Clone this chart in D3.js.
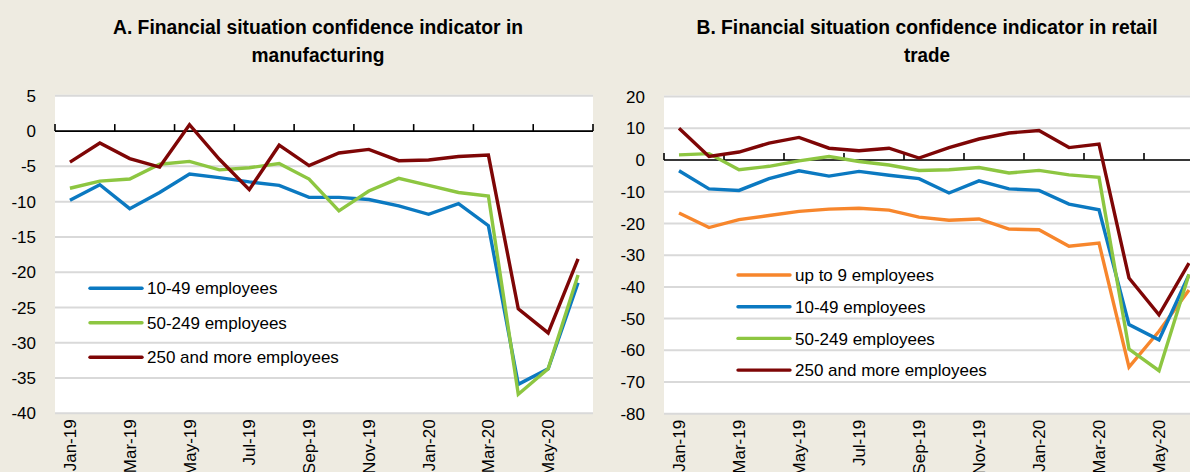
<!DOCTYPE html>
<html>
<head>
<meta charset="utf-8">
<script src="https://cdn.jsdelivr.net/npm/d3@7"></script>
<style>
  html, body { margin: 0; padding: 0; background: #EEEBE1; }
  svg { display: block; font-family: Arial, "Liberation Sans", sans-serif; }
</style>
</head>
<body>
<svg id="chart" width="1190" height="472"></svg>
<script>
// Months shown on both panels
const months = ["Jan-19","Feb-19","Mar-19","Apr-19","May-19","Jun-19","Jul-19","Aug-19","Sep-19",
                "Oct-19","Nov-19","Dec-19","Jan-20","Feb-20","Mar-20","Apr-20","May-20","Jun-20"];

// Panel A: manufacturing
const mfg10to49   = [-9.8, -7.6, -11.0, -8.7, -6.1, -6.6, -7.2, -7.7, -9.4, -9.4, -9.7, -10.6, -11.8, -10.3, -13.4, -35.9, -33.7, -21.5];
const mfg50to249  = [-8.1, -7.1, -6.8, -4.7, -4.3, -5.5, -5.2, -4.6, -6.8, -11.3, -8.5, -6.7, -7.7, -8.7, -9.2, -37.3, -33.7, -20.4];
const mfg250plus  = [-4.4, -1.7, -3.9, -5.1, 0.9, -4.0, -8.3, -2.0, -4.9, -3.1, -2.6, -4.2, -4.1, -3.6, -3.4, -25.2, -28.6, -18.1];
const mfgYTicks   = [5, 0, -5, -10, -15, -20, -25, -30, -35, -40];

// Panel B: retail trade
const ret0to9     = [-16.7, -21.3, -18.8, -17.5, -16.2, -15.5, -15.2, -15.8, -18.0, -19.0, -18.6, -21.8, -22.0, -27.2, -26.2, -65.3, -54.0, -41.0];
const ret10to49   = [-3.4, -9.1, -9.6, -5.9, -3.4, -5.1, -3.6, -4.8, -5.9, -10.4, -6.6, -9.1, -9.6, -13.9, -15.7, -51.9, -56.7, -36.2];
const ret50to249  = [1.6, 2.0, -3.1, -2.0, -0.3, 1.1, -0.5, -1.6, -3.3, -3.1, -2.4, -4.1, -3.3, -4.7, -5.5, -59.6, -66.4, -36.0];
const ret250plus  = [10.0, 1.1, 2.5, 5.3, 7.1, 3.7, 2.9, 3.7, 0.6, 3.9, 6.6, 8.5, 9.3, 3.9, 5.0, -37.2, -48.8, -32.5];
const retYTicks   = [20, 10, 0, -10, -20, -30, -40, -50, -60, -70, -80];

const labelsMfg = ["10-49 employees", "50-249 employees", "250 and more employees"];
const labelsRet = ["up to 9 employees", "10-49 employees", "50-249 employees", "250 and more employees"];

const colors = { orange: "#F7862C", blue: "#0B79C1", green: "#8DC641", red: "#7E0606" };

const svg = d3.select("#chart");

function panel(cfg) {
  const g = svg.append("g");
  const [x0, x1] = cfg.xRange;
  const [yTop, yBot] = cfg.yRange;

  const x = d3.scaleBand().domain(months).range([x0, x1]).paddingInner(0).paddingOuter(0);
  const y = d3.scaleLinear().domain(cfg.yDomain).range([yTop, yBot]);
  const cx = m => x(m) + x.bandwidth() / 2;

  // plot area
  g.append("rect")
    .attr("x", x0).attr("y", yTop - 1)
    .attr("width", Math.min(x1, 1190) - x0).attr("height", yBot - yTop + 1)
    .attr("fill", "#FFFFFF");

  // horizontal gridlines
  g.selectAll("line.grid").data(cfg.yTicks).join("line")
    .attr("class", "grid")
    .attr("x1", x0).attr("x2", x1)
    .attr("y1", d => y(d)).attr("y2", d => y(d))
    .attr("stroke", "#D9D9D9").attr("stroke-width", 2);

  // y tick labels
  g.selectAll("text.ylab").data(cfg.yTicks).join("text")
    .attr("class", "ylab")
    .attr("x", x0 - 19).attr("y", d => y(d))
    .attr("dy", "0.36em")
    .attr("text-anchor", "end")
    .attr("font-size", 17)
    .attr("fill", "#000")
    .text(d => d);

  // category axis crossing at zero, tick marks between every second month
  const tickPos = months.filter((m, i) => i % 2 === 0).map(m => x(m)).concat([x1]);
  g.append("line")
    .attr("x1", x0).attr("x2", x1)
    .attr("y1", y(0)).attr("y2", y(0))
    .attr("stroke", "#000").attr("stroke-width", 1.6);
  g.selectAll("line.xtick").data(tickPos).join("line")
    .attr("class", "xtick")
    .attr("x1", d => d).attr("x2", d => d)
    .attr("y1", y(0)).attr("y2", y(0) - 7)
    .attr("stroke", "#000").attr("stroke-width", 1.6);

  // month labels under the plot, rotated
  const labelMonths = months.filter((m, i) => i % 2 === 0);
  g.selectAll("text.xlab").data(labelMonths).join("text")
    .attr("class", "xlab")
    .attr("transform", d => `translate(${cx(d) + 6},${yBot + 6}) rotate(-90)`)
    .attr("text-anchor", "end")
    .attr("font-size", 17)
    .attr("fill", "#000")
    .text(d => d);

  // series lines
  const line = d3.line().x((d, i) => cx(months[i])).y(d => y(d));
  cfg.series.forEach(s => {
    g.append("path")
      .datum(s.values)
      .attr("d", line)
      .attr("fill", "none")
      .attr("stroke", s.color)
      .attr("stroke-width", 3.4)
      .attr("stroke-linejoin", "miter");
  });

  // legend
  const lg = g.append("g");
  cfg.series.forEach((s, i) => {
    const ly = cfg.legend.y + i * cfg.legend.step;
    lg.append("line")
      .attr("x1", cfg.legend.x).attr("x2", cfg.legend.x + 52)
      .attr("y1", ly).attr("y2", ly)
      .attr("stroke", s.color).attr("stroke-width", 3.4)
      .attr("stroke-linecap", "round");
    lg.append("text")
      .attr("x", cfg.legend.x + 57).attr("y", ly)
      .attr("dy", "0.36em")
      .attr("font-size", 17)
      .attr("fill", "#000")
      .text(s.label);
  });

  // title
  cfg.title.forEach((t, i) => {
    g.append("text")
      .attr("x", cfg.titleX).attr("y", 33.5 + i * 28)
      .attr("text-anchor", "middle")
      .attr("font-size", 19.5)
      .attr("font-weight", "bold")
      .attr("fill", "#000")
      .attr("textLength", cfg.titleWidths[i])
      .attr("lengthAdjust", "spacingAndGlyphs")
      .text(t);
  });
}

panel({
  xRange: [55, 593],
  yRange: [95.8, 413.3],
  yDomain: [5, -40],
  yTicks: mfgYTicks,
  series: [
    { label: labelsMfg[0], values: mfg10to49,  color: colors.blue },
    { label: labelsMfg[1], values: mfg50to249, color: colors.green },
    { label: labelsMfg[2], values: mfg250plus, color: colors.red }
  ],
  legend: { x: 90, y: 288.3, step: 34.5 },
  title: ["A. Financial situation confidence indicator in", "manufacturing"],
  titleX: 318,
  titleWidths: [410, 133]
});

panel({
  xRange: [664, 1204],
  yRange: [96.5, 413.8],
  yDomain: [20, -80],
  yTicks: retYTicks,
  series: [
    { label: labelsRet[0], values: ret0to9,    color: colors.orange },
    { label: labelsRet[1], values: ret10to49,  color: colors.blue },
    { label: labelsRet[2], values: ret50to249, color: colors.green },
    { label: labelsRet[3], values: ret250plus, color: colors.red }
  ],
  legend: { x: 738, y: 275, step: 31.7 },
  title: ["B. Financial situation confidence indicator in retail", "trade"],
  titleX: 927,
  titleWidths: [461, 46]
});
</script>
</body>
</html>
